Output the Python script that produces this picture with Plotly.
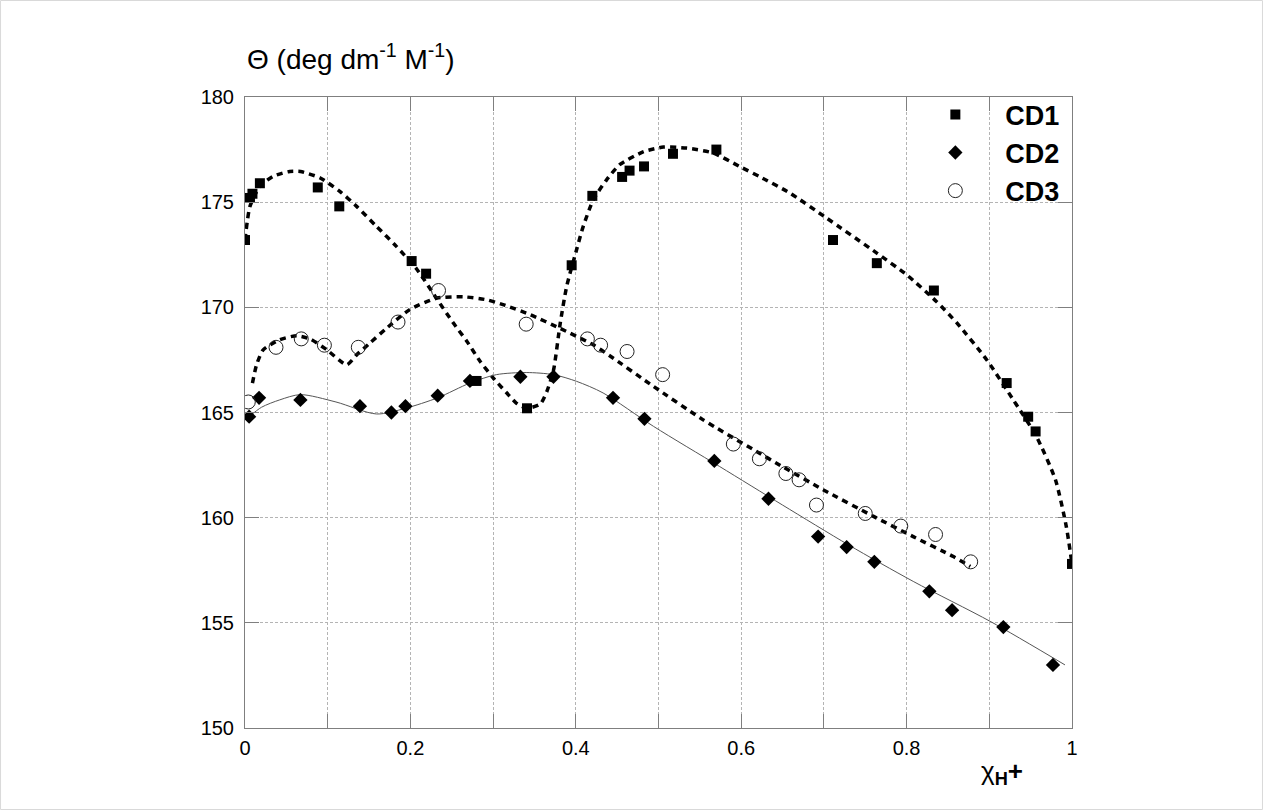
import plotly.graph_objects as go

# ---- data ----
cd1_x = [0.0, 0.006, 0.009, 0.018, 0.088, 0.114, 0.2015, 0.219, 0.280, 0.341, 0.395, 0.420,
         0.456, 0.465, 0.4825, 0.5175, 0.570, 0.711, 0.764, 0.833, 0.921, 0.947, 0.956, 1.0]
cd1_y = [173.2, 175.2, 175.4, 175.9, 175.7, 174.8, 172.2, 171.6, 166.5, 165.2, 172.0, 175.3,
         176.2, 176.5, 176.7, 177.3, 177.5, 173.2, 172.1, 170.8, 166.4, 164.8, 164.1, 157.8]

cd2_x = [0.005, 0.017, 0.067, 0.139, 0.177, 0.194, 0.233, 0.272, 0.333, 0.373, 0.445, 0.483,
         0.5675, 0.633, 0.693, 0.7275, 0.761, 0.8275, 0.855, 0.917, 0.977]
cd2_y = [164.8, 165.7, 165.6, 165.3, 165.0, 165.3, 165.8, 166.5, 166.7, 166.7, 165.7, 164.7,
         162.7, 160.9, 159.1, 158.6, 157.9, 156.5, 155.6, 154.8, 153.0]

cd3_x = [0.004, 0.0375, 0.068, 0.096, 0.137, 0.185, 0.234, 0.340, 0.414, 0.430, 0.462, 0.505,
         0.5905, 0.622, 0.654, 0.670, 0.691, 0.750, 0.793, 0.835, 0.8775]
cd3_y = [165.5, 168.1, 168.5, 168.2, 168.1, 169.3, 170.8, 169.2, 168.5, 168.2, 167.9, 166.8,
         163.5, 162.8, 162.1, 161.8, 160.6, 160.2, 159.6, 159.2, 157.9]

# fitted curves
fit1_x = [0.0, 0.006, 0.018, 0.034, 0.054, 0.067, 0.091, 0.115, 0.135, 0.159, 0.183, 0.208,
          0.232, 0.252, 0.268, 0.284, 0.300, 0.316, 0.328, 0.341, 0.357, 0.365, 0.373, 0.381,
          0.389, 0.401, 0.409, 0.421, 0.437, 0.453, 0.482, 0.506, 0.534, 0.566, 0.598, 0.623,
          0.659, 0.703, 0.764, 0.800, 0.836, 0.861, 0.897, 0.929, 0.957, 0.980, 0.993, 1.0]
fit1_y = [173.2, 174.8, 175.75, 176.23, 176.46, 176.46, 176.15, 175.5, 174.8, 173.85, 172.9,
          171.8, 170.4, 169.25, 168.4, 167.45, 166.65, 165.95, 165.45, 165.2, 165.4, 166.0,
          167.0, 169.2, 171.0, 172.75, 173.85, 175.1, 176.05, 176.78, 177.4, 177.62, 177.57,
          177.34, 176.7, 176.2, 175.43, 174.25, 172.58, 171.55, 170.28, 169.25, 167.5, 165.6,
          163.86, 161.8, 159.6, 157.8]

fit2_x = [0.005, 0.02, 0.042, 0.067, 0.11, 0.159, 0.194, 0.233, 0.272, 0.304, 0.340, 0.373,
          0.401, 0.433, 0.494, 0.574, 0.650, 0.730, 0.808, 0.902, 0.9915]
fit2_y = [164.8, 165.25, 165.6, 165.85, 165.5, 164.93, 165.2, 165.7, 166.4, 166.8, 166.9,
          166.8, 166.48, 165.93, 164.34, 162.43, 160.6, 158.7, 156.97, 155.05, 153.0]

fit3_x = [0.009, 0.014, 0.022, 0.042, 0.0625, 0.079, 0.099, 0.123, 0.135, 0.151, 0.171, 0.1995,
          0.232, 0.264, 0.292, 0.312, 0.345, 0.381, 0.421, 0.441, 0.494, 0.554, 0.615, 0.651,
          0.699, 0.760, 0.808, 0.8565, 0.877]
fit3_y = [166.4, 167.27, 167.98, 168.46, 168.65, 168.49, 167.98, 167.27, 167.74, 168.3, 169.0,
          169.9, 170.44, 170.5, 170.36, 170.13, 169.65, 169.0, 168.22, 167.7, 166.24, 164.65,
          163.23, 162.4, 161.33, 160.06, 159.1, 158.15, 157.68]

x_ticks = [0, 0.1, 0.2, 0.3, 0.4, 0.5, 0.6, 0.7, 0.8, 0.9, 1.0]
x_ticktext = ["0", "", "0.2", "", "0.4", "", "0.6", "", "0.8", "", "1"]
y_ticks = [150, 155, 160, 165, 170, 175, 180]

FONT = "Liberation Sans, Arial, sans-serif"
dash = "6px,5px"

fig = go.Figure()
fig.add_trace(go.Scatter(x=fit1_x, y=fit1_y, mode="lines", line=dict(color="black", width=3.5, dash=dash, shape="spline", smoothing=0.6), showlegend=False, hoverinfo="skip"))
fig.add_trace(go.Scatter(x=fit3_x, y=fit3_y, mode="lines", line=dict(color="black", width=3.5, dash=dash, shape="spline", smoothing=0.6), showlegend=False, hoverinfo="skip"))
fig.add_trace(go.Scatter(x=fit2_x, y=fit2_y, mode="lines", line=dict(color="#555555", width=1, shape="spline", smoothing=0.8), showlegend=False, hoverinfo="skip"))

fig.add_trace(go.Scatter(x=cd1_x, y=cd1_y, mode="markers", name="<b>CD1</b>",
                         marker=dict(symbol="square", size=10, color="black")))
fig.add_trace(go.Scatter(x=cd2_x, y=cd2_y, mode="markers", name="<b>CD2</b>",
                         marker=dict(symbol="diamond", size=11, color="black")))
fig.add_trace(go.Scatter(x=cd3_x, y=cd3_y, mode="markers", name="<b>CD3</b>",
                         marker=dict(symbol="circle-open", size=14, color="#222222", line=dict(width=1))))

axis_common = dict(showline=True, linecolor="#7f7f7f", linewidth=1, mirror="ticks",
                   ticks="inside", ticklen=14, tickcolor="#7f7f7f", tickwidth=1,
                   showgrid=True, gridcolor="#b4b4b4", gridwidth=1, griddash="3px,2px",
                   zeroline=False, tickfont=dict(size=20, color="black", family=FONT))

fig.update_xaxes(range=[0, 1], tickvals=x_ticks, ticktext=x_ticktext, ticklabelstandoff=2, **axis_common)
fig.update_yaxes(range=[150, 180], tickvals=y_ticks, ticklabelstandoff=6, **axis_common)

fig.update_layout(
    width=1263, height=810,
    margin=dict(l=245, r=191, t=97, b=82),
    paper_bgcolor="white", plot_bgcolor="white",
    font=dict(family=FONT, color="black"),
    legend=dict(x=0.7985, y=1.0105, xanchor="left", yanchor="top", bgcolor="rgba(0,0,0,0)",
                font=dict(size=27, family=FONT, color="black"), itemwidth=90, tracegroupgap=0),
    annotations=[
        dict(text="Θ (deg dm<sup>-1</sup> M<sup>-1</sup>)", xref="paper", yref="paper", x=0, y=1,
             xanchor="left", yanchor="middle", yshift=40, showarrow=False,
             font=dict(size=28, family=FONT, color="black")),
        dict(text="χ<sub><b>H</b></sub><b>+</b>", xref="paper", yref="paper", x=0.9155, y=0,
             xanchor="center", yanchor="top", yshift=-26, showarrow=False,
             font=dict(size=26, family=FONT, color="black")),
    ],
    shapes=[
        dict(type="rect", xref="paper", yref="paper", x0=-0.2956, x1=1.2303, y0=-0.1292, y1=1.1529,
             line=dict(color="#d9d9d9", width=1), fillcolor="rgba(0,0,0,0)", layer="below"),
    ],
)

fig.write_html("out.html")
